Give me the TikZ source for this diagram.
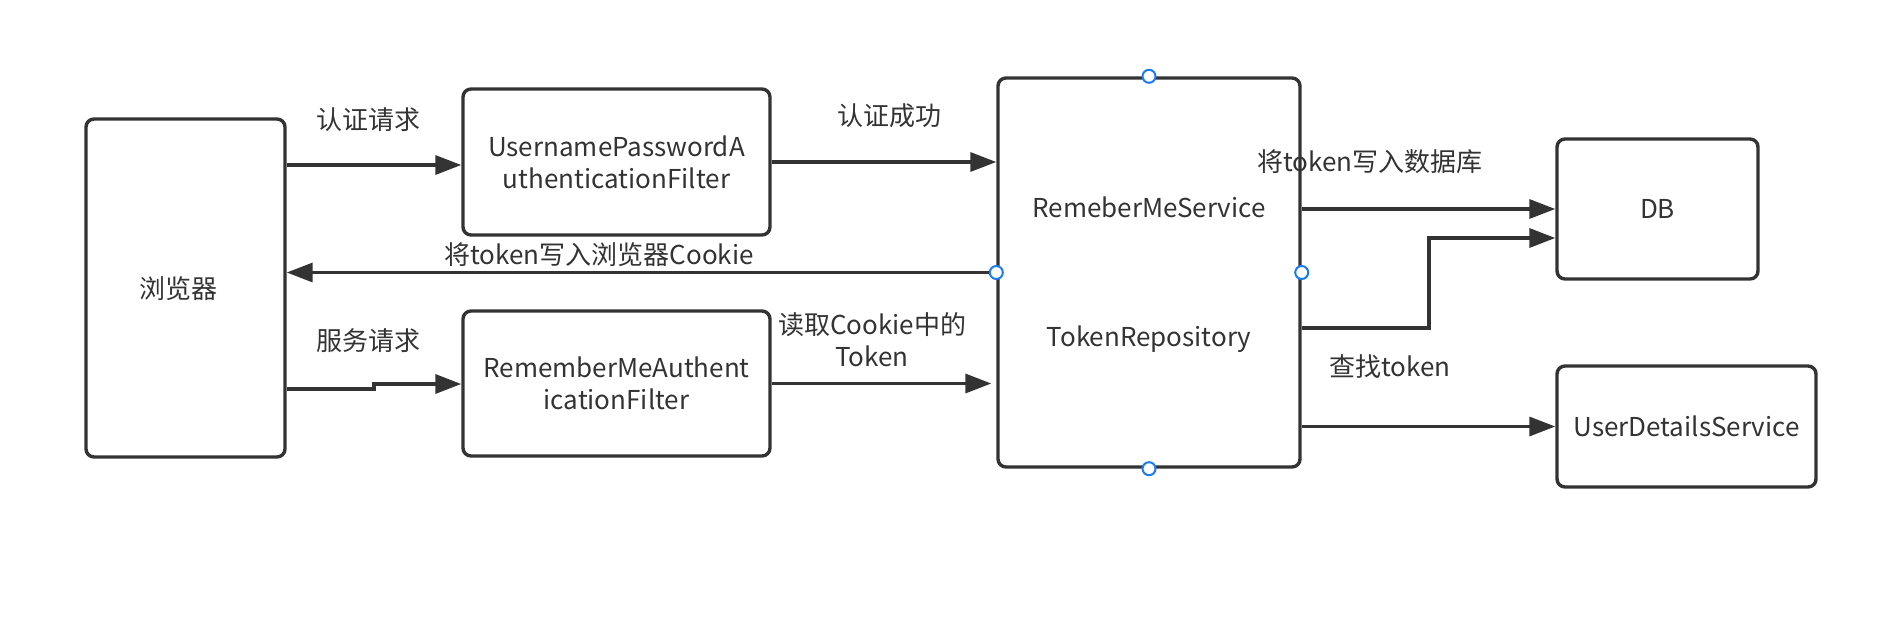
\documentclass[tikz,border=0pt]{standalone}
\usepackage{fontspec}
\setmainfont{Noto Sans CJK SC}
\usepackage{tikz}
\usetikzlibrary{arrows.meta}
\usepackage{xcolor}
\definecolor{ink}{HTML}{333333}
\definecolor{handleblue}{HTML}{1A7CF0}

\begin{document}
\begin{tikzpicture}[x=1pt,y=-1pt,>={Triangle[length=26pt,width=19pt]},
  font=\fontsize{26}{32}\selectfont,text=ink,line cap=butt,
  box/.style={draw=ink,line width=3.4pt,rounded corners=8pt,align=center,inner sep=0pt},
  flow/.style={draw=ink,line width=3.4pt,->},
  lbl/.style={inner sep=0pt,align=center},
  handle/.style={draw=handleblue,fill=white,line width=2pt}]
\useasboundingbox (0,0) rectangle (1878,624);
\node[box,minimum width=199pt,minimum height=338pt] (browser) at (185.5,288) {};
\node[lbl] (browsername) at (178,289) {浏览器};
\node[box,minimum width=307pt,minimum height=146pt] (upf) at (616.5,162) {UsernamePasswordA\\uthenticationFilter};
\node[box,minimum width=307pt,minimum height=145pt] (rmf) at (616.5,383.5) {RememberMeAuthent\\icationFilter};
\node[box,minimum width=302pt,minimum height=389pt] (svc) at (1149,272.5) {};
\node[lbl] (svcname) at (1149,207) {RemeberMeService};
\node[lbl] (repo) at (1149,339) {TokenRepository};
\node[box,minimum width=201pt,minimum height=140pt] (db) at (1657.5,209) {DB};
\node[box,minimum width=259pt,minimum height=121pt] (uds) at (1686.5,426.5) {UserDetailsService};
\draw[flow] (browser.east |- 0,165) -- (upf.west |- 0,165);
\draw[flow] (upf.east) -- (svc.west |- upf.east);
\draw[flow] (svc.west) -- (browser.east |- svc.west);
\draw[flow] (browser.east |- 0,389) -- (374,389) -- (374,384) -- (rmf.west |- 0,384);
\draw[flow,shorten >=5pt] (rmf.east) -- (svc.west |- rmf.east);
\draw[flow] (svc.east |- db.west) -- (db.west);
\draw[flow] (svc.east |- 0,328) -- (1429,328) -- (1429,238) -- (db.west |- 0,238);
\draw[flow] (svc.east |- uds.west) -- (uds.west);
\node[lbl] (authreq) at (368,120) {认证请求};
\node[lbl] (authok) at (889,116) {认证成功};
\node[lbl] (cookiewrite) at (599,255) {将token写入浏览器Cookie};
\node[lbl] (svcreq) at (368,341) {服务请求};
\node[lbl] (cookieread) at (872,340) {读取Cookie中的\\Token};
\node[lbl] (dbwrite) at (1370,162) {将token写入数据库};
\node[lbl] (lookup) at (1390,367) {查找token};
\foreach \a in {north,south,west,east}
  \draw[handle] (svc.\a) circle (6.5pt);
\end{tikzpicture}
\end{document}
